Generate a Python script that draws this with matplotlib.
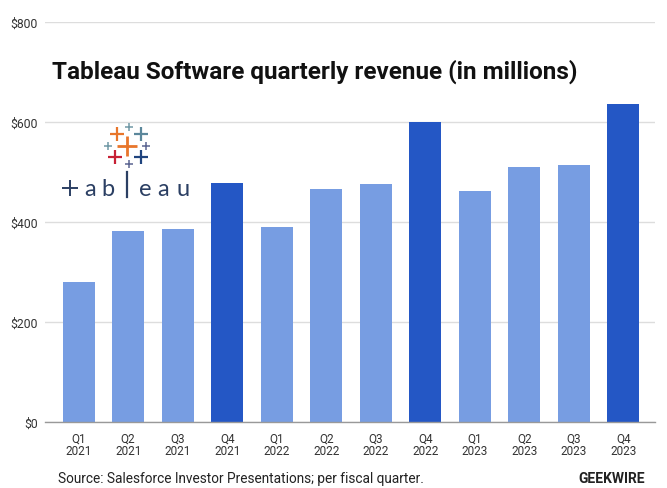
import matplotlib
matplotlib.use("Agg")
import matplotlib.pyplot as plt
from matplotlib.lines import Line2D

quarters = ["Q1", "Q2", "Q3", "Q4", "Q1", "Q2", "Q3", "Q4", "Q1", "Q2", "Q3", "Q4"]
years = ["2021", "2021", "2021", "2021", "2022", "2022", "2022", "2022", "2023", "2023", "2023", "2023"]
revenue = [281, 382, 387, 479, 391, 467, 477, 601, 463, 511, 515, 636]
y_ticks = [0, 200, 400, 600, 800]
y_labels = ["$0", "$200", "$400", "$600", "$800"]

LIGHT = "#779DE2"
DARK = "#2457C5"

plt.rcParams['font.family'] = ['Roboto', 'DejaVu Sans']

W, H = 667, 489
fig = plt.figure(figsize=(W / 100, H / 100), dpi=100)
ax = fig.add_axes([45 / W, (H - 423.3) / H, (655 - 45) / W, 400 / H])

x = list(range(len(revenue)))
colors = [DARK if q == "Q4" else LIGHT for q in quarters]
ax.bar(x, revenue, width=0.65, color=colors, zorder=3)

ax.set_ylim(0, 800)
ax.set_xlim(-0.68, 11.64)
ax.set_yticks(y_ticks)
ax.set_yticklabels(y_labels, fontsize=8.8, color="#333333")
ax.set_xticks(x)
ax.set_xticklabels([f"{q}\n{y}" for q, y in zip(quarters, years)], fontsize=8.5,
                   color="#333333", linespacing=0.9)
ax.tick_params(axis="x", length=0, pad=7)
ax.tick_params(axis="y", length=0, pad=5)
ax.grid(axis="y", color="#DDDDDD", linewidth=1, zorder=0)
for s in ["top", "right", "left"]:
    ax.spines[s].set_visible(False)
ax.spines["bottom"].set_color("#999999")
ax.spines["bottom"].set_linewidth(1)
ax.spines["bottom"].set_zorder(4)

def fx(px):
    return px / W

def fy(py):
    return (H - py) / H

fig.text(fx(52), fy(79), "Tableau Software quarterly revenue (in millions)",
         fontsize=17.5, fontweight="bold", color="#111111", va="baseline", ha="left")

# Tableau logo crosses: (x px, y px, size pt, width pt, colour)
crosses = [
    (116.7, 135, 9.6, 1.6, "#E8762B"),
    (129, 128, 6, 1.1, "#7099A6"),
    (141, 135, 9.6, 1.6, "#5B879B"),
    (108, 147, 6, 1.1, "#7099A6"),
    (126.7, 146.7, 14.4, 2.0, "#E8762B"),
    (145.7, 146.7, 6, 1.1, "#5B6591"),
    (115, 158, 9.6, 1.6, "#C72035"),
    (129, 165, 6, 1.1, "#5B6591"),
    (141, 158, 9.6, 1.6, "#1F447E"),
]
for cx, cy, sz, lw, c in crosses:
    fig.add_artist(Line2D([fx(cx)], [fy(cy)], marker="+", markersize=sz,
                          markeredgewidth=lw, color=c,
                          transform=fig.transFigure, zorder=6))
LOGO = "#2B3F63"
# "t" of the wordmark drawn as a cross, "l" as a bar
fig.add_artist(Line2D([fx(70)], [fy(189)], marker="+", markersize=11,
                      markeredgewidth=1.4, color=LOGO, transform=fig.transFigure, zorder=6))
fig.add_artist(Line2D([fx(127), fx(127)], [fy(173), fy(198)], linewidth=1.6,
                      color=LOGO, transform=fig.transFigure, zorder=6))
logo_chars = ["a", "b", "e", "a", "u"]
logo_x = [90, 108, 145, 163, 183]
for ch, lx in zip(logo_chars, logo_x):
    fig.text(fx(lx), fy(196), ch, fontsize=17, color=LOGO, ha="center",
             va="baseline", family=["Lato", "DejaVu Sans"])

fig.text(fx(58), fy(479), "Source: Salesforce Investor Presentations; per fiscal quarter.",
         fontsize=9.8, color="#222222", ha="left", va="center")
fig.text(fx(645), fy(479), "GEEKWIRE", fontsize=10, fontweight="bold",
         color="#222222", ha="right", va="center")

fig.savefig("out.png", dpi=100, facecolor="white")
